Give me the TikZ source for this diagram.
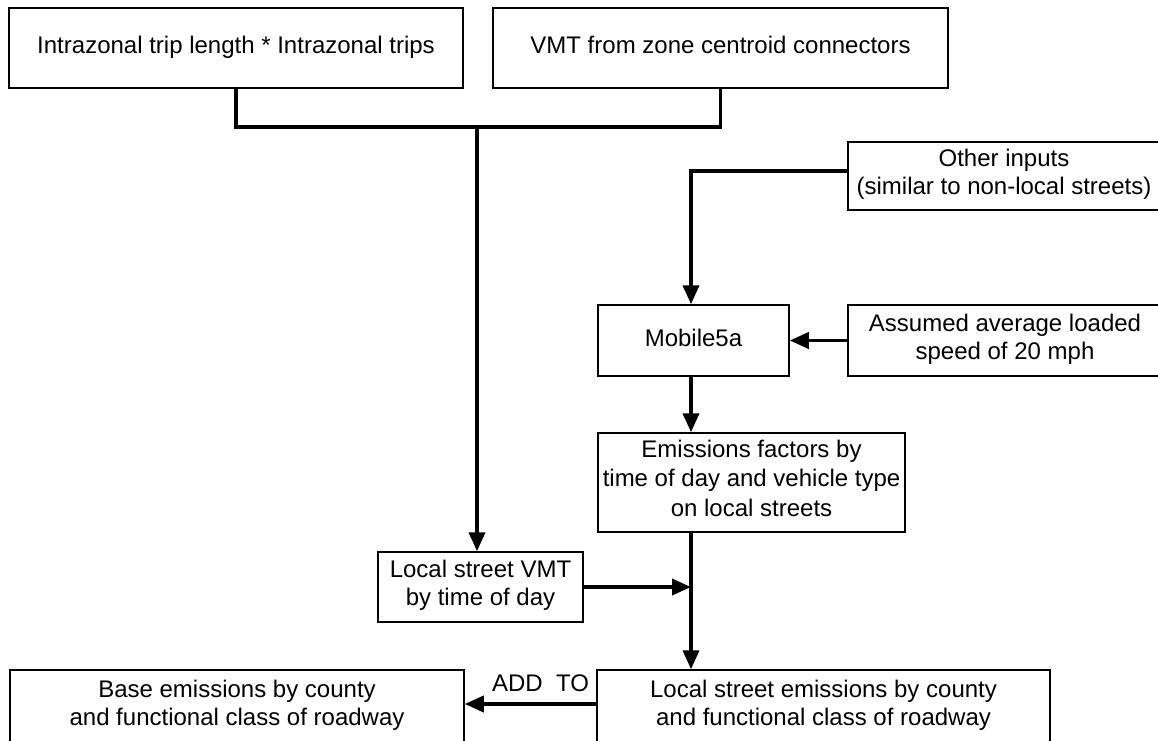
\documentclass[tikz,border=0pt]{standalone}
\usepackage{fontspec}
\setmainfont{Liberation Sans}
\usetikzlibrary{arrows.meta}
\begin{document}
\begin{tikzpicture}[x=1pt,y=-1pt,
  box/.style={draw, line width=1.5pt, align=center, inner sep=0pt,
    font=\fontsize{24}{28}\selectfont,
    execute at begin node=\strut, execute at end node=\strut},
  conn/.style={line width=3.8pt},
  arr/.style={conn,-{Triangle[length=19pt,width=16pt]}}]
\useasboundingbox (0,0) rectangle (1158,740);
\node[box, minimum width=454pt, minimum height=80pt] (ib) at (236,48) {Intrazonal trip length * Intrazonal trips};
\node[box, minimum width=455pt, minimum height=80pt] (vc) at (720.5,48) {VMT from zone centroid connectors};
\node[box, minimum width=312pt, minimum height=68pt] (oi) at (1004,176) {Other inputs\\(similar to non-local streets)};
\node[box, minimum width=191pt, minimum height=71pt] (mb) at (693.5,340.5) {Mobile5a};
\node[box, minimum width=314pt, minimum height=71pt] (as) at (1005,340.5) {Assumed average loaded\\speed of 20 mph};
\node[box, minimum width=307pt, minimum height=99pt, font=\fontsize{24}{29.5}\selectfont] (ef) at (751.5,482.5) {Emissions factors by\\time of day and vehicle type\\on local streets};
\node[box, minimum width=205pt, minimum height=70pt] (vmt) at (480.5,587) {Local street VMT\\by time of day};
\node[box, minimum width=453pt, minimum height=74pt] (lse) at (823.5,707) {Local street emissions by county\\and functional class of roadway};
\node[box, minimum width=454pt, minimum height=74pt] (be) at (237,707) {Base emissions by county\\and functional class of roadway};
\coordinate (jl) at (ib.south |- 0,127);
\coordinate (jr) at (vc.south |- 0,127);
\coordinate (j) at (477,127);
\draw[conn] (ib.south) -- (jl) -- (jr) -- (vc.south);
\draw[arr] (j) -- (j |- vmt.north);
\coordinate (oc) at (691,171);
\draw[arr] ([yshift=5pt]oi.west) -- (oc) -- (oc |- mb.north);
\draw[arr] (as.west) -- (mb.east);
\draw[arr] (oc |- mb.south) -- (oc |- ef.north);
\coordinate (ev) at (oc |- ef.south);
\draw[arr] (ev) -- (ev |- lse.north);
\draw[arr] (vmt.east) -- (ev |- vmt.east);
\draw[arr] ([yshift=3pt]lse.west) -- node[above=7pt, xshift=10pt, font=\fontsize{24}{28}\selectfont] (addto) {ADD\ \ TO} ([yshift=3pt]be.east);
\end{tikzpicture}
\end{document}
